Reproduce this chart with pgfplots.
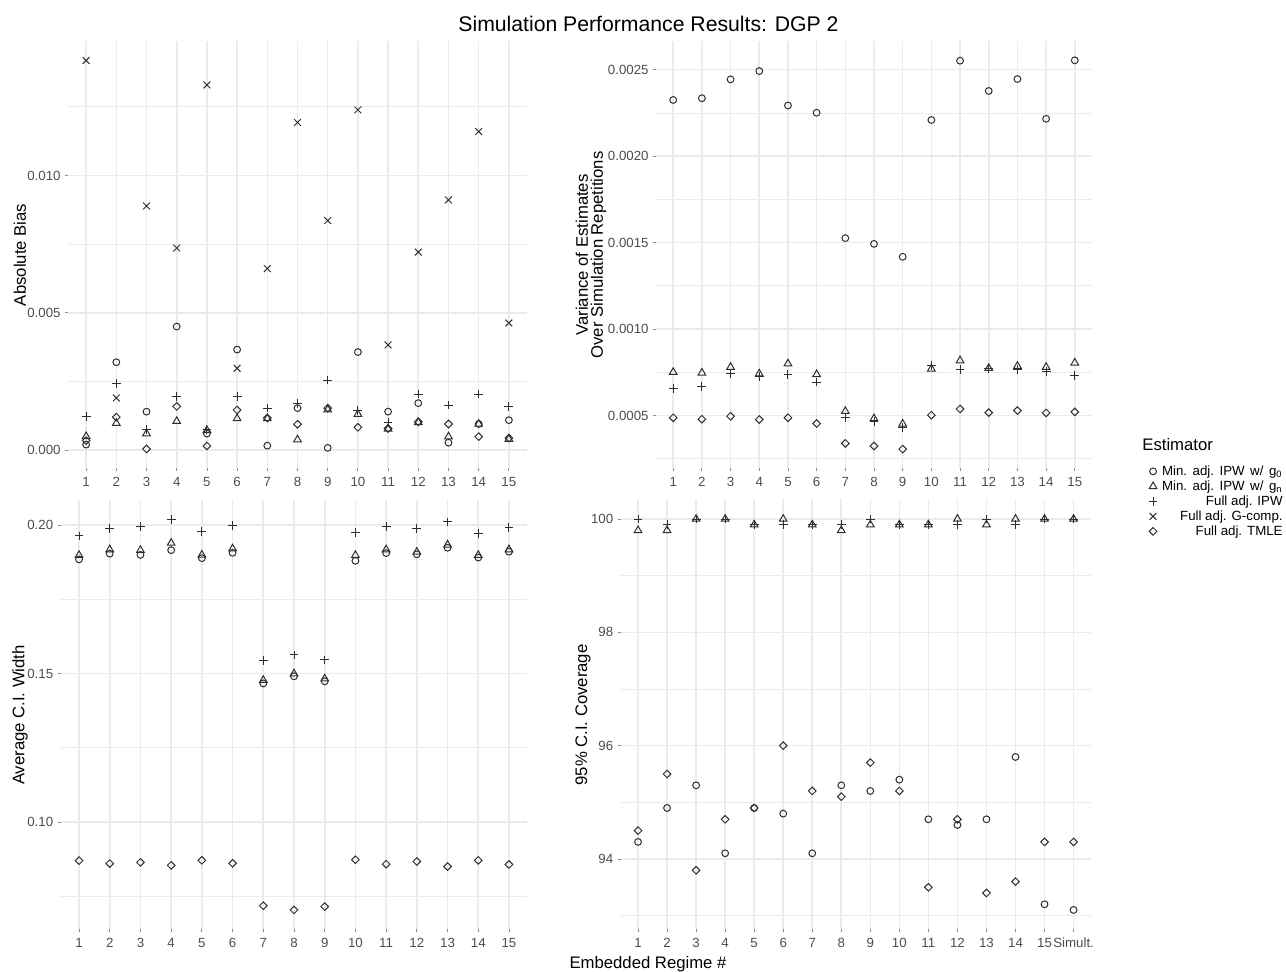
\documentclass[border=0pt]{standalone}
\usepackage{fontspec}
\setmainfont{Liberation Sans}
\usepackage{pgfplots}
\usepackage{pgfplotstable}
\pgfplotsset{compat=1.18}
\definecolor{gridc}{HTML}{EBEBEB}
\definecolor{tickc}{HTML}{4D4D4D}
\definecolor{markc}{HTML}{2E2E2E}

\pgfplotstableread{
x circ tri plus cross diam
1 0.0002 0.0005 0.00122 0.01419 0.00035
2 0.0032 0.00098 0.00243 0.0019 0.0012
3 0.0014 0.0006 0.00074 0.00889 0.00004
4 0.0045 0.00105 0.00196 0.00736 0.00159
5 0.0006 0.00072 0.00075 0.0133 0.00015
6 0.00366 0.00115 0.00196 0.00298 0.00146
7 0.00016 0.00115 0.00153 0.00661 0.00117
8 0.00153 0.00038 0.00171 0.01193 0.00094
9 0.00008 0.00147 0.00255 0.00836 0.00153
10 0.00357 0.00131 0.00143 0.01239 0.00083
11 0.0014 0.00077 0.00101 0.00383 0.00079
12 0.00171 0.00101 0.00204 0.00721 0.00103
13 0.00027 0.00049 0.00164 0.00911 0.00095
14 0.00095 0.00095 0.00204 0.0116 0.00049
15 0.00109 0.0004 0.00159 0.00463 0.00044
}\biasT

\pgfplotstableread{
x circ tri plus diam
1 0.002325 0.000751 0.000655 0.000487
2 0.002335 0.000747 0.000669 0.000479
3 0.002444 0.00078 0.000742 0.000496
4 0.002492 0.000742 0.000726 0.000477
5 0.002293 0.0008 0.000738 0.000487
6 0.002251 0.000738 0.000694 0.000454
7 0.001526 0.000525 0.000487 0.000339
8 0.001493 0.000483 0.000464 0.000324
9 0.001418 0.000452 0.000431 0.000306
10 0.002209 0.00077 0.00079 0.000502
11 0.002552 0.000818 0.000767 0.000538
12 0.002377 0.000774 0.000774 0.000517
13 0.002446 0.000786 0.000767 0.000529
14 0.002216 0.00078 0.000755 0.000515
15 0.002554 0.000805 0.000732 0.000521
}\varT

\pgfplotstableread{
x circ tri plus diam
1 0.1885 0.1899 0.1964 0.0870
2 0.1904 0.1918 0.1989 0.0860
3 0.1900 0.1916 0.1997 0.0864
4 0.1916 0.1940 0.2019 0.0854
5 0.1889 0.1900 0.1978 0.0871
6 0.1907 0.1921 0.2000 0.0861
7 0.1467 0.1478 0.1544 0.0718
8 0.1491 0.1500 0.1563 0.0704
9 0.1474 0.1483 0.1546 0.0715
10 0.1880 0.1899 0.1976 0.0873
11 0.1906 0.1918 0.1997 0.0858
12 0.1902 0.1910 0.1990 0.0867
13 0.1924 0.1934 0.2011 0.0850
14 0.1891 0.1899 0.1971 0.0871
15 0.1911 0.1918 0.1992 0.0857
}\widthT

\pgfplotstableread{
x circ tri plus diam
1 94.3 99.8 100 94.5
2 94.9 99.8 99.9 95.5
3 95.3 100 100 93.8
4 94.1 100 100 94.7
5 94.9 99.9 99.9 94.9
6 94.8 100 99.9 96.0
7 94.1 99.9 99.9 95.2
8 95.3 99.8 99.9 95.1
9 95.2 99.9 100 95.7
10 95.4 99.9 99.9 95.2
11 94.7 99.9 99.9 93.5
12 94.6 100 99.9 94.7
13 94.7 99.9 100 93.4
14 95.8 100 99.9 93.6
15 93.2 100 100 94.3
16 93.1 100 100 94.3
}\covT

\pgfplotsset{
  panel/.style={
    scale only axis, anchor=south west,
    axis line style={draw=none},
    tick pos=left, tick align=outside,
    major tick length=1.5pt, minor tick length=0pt,
    tick style={black!45, line width=0.4pt},
    xmajorgrids, ymajorgrids, yminorgrids,
    major grid style={gridc, line width=0.8pt},
    minor grid style={gridc, line width=0.4pt},
    /pgf/number format/assume math mode=true,
    ticklabel style={font=\fontsize{6.65}{7}\selectfont, text=tickc},
    xticklabel style={anchor=north, inner sep=0pt},
    yticklabel style={anchor=east, inner sep=0pt},
    xticklabel shift=2.6pt, yticklabel shift=2pt,
    scaled y ticks=false,
    xmin=0.4, xmax=15.6,
    xtick={1,...,15},
    clip=false,
    legend image code/.code={\draw[mark repeat=2,mark phase=2,##1] plot coordinates {(0pt,0pt)(2.5pt,0pt)(5pt,0pt)};},
  },
  pcirc/.style={only marks, mark=o, mark size=1.7pt, color=markc, line width=0.5pt},
  ptri/.style={only marks, mark=triangle, mark size=2.2pt, color=markc, line width=0.5pt},
  pplus/.style={only marks, mark=+, mark size=2.2pt, color=markc, line width=0.5pt},
  pcross/.style={only marks, mark=x, mark size=2.4pt, color=markc, line width=0.5pt},
  pdiam/.style={only marks, mark=square, mark size=1.35pt, mark options={rotate=45}, color=markc, line width=0.5pt},
}
\newcommand{\wsp}{\ \hspace{0.9pt}}

\begin{document}
\begin{tikzpicture}
\useasboundingbox (0pt,0pt) rectangle (643pt,486pt);

% Panel 1: Absolute bias
\begin{axis}[panel, at={(34pt,251.75pt)}, width=229.5pt, height=213.75pt,
  ymin=-0.00067, ymax=0.0149, ytick={0,0.005,0.01}, yticklabels={0.000,0.005,0.010},
  minor ytick={0.0025,0.0075,0.0125}]
\addplot[pcirc] table[x=x,y=circ]{\biasT};
\addplot[ptri] table[x=x,y=tri]{\biasT};
\addplot[pplus] table[x=x,y=plus]{\biasT};
\addplot[pcross] table[x=x,y=cross]{\biasT};
\addplot[pdiam] table[x=x,y=diam]{\biasT};
\end{axis}

% Panel 2: Variance
\begin{axis}[panel, at={(328pt,251.75pt)}, width=218pt, height=213.75pt,
  ymin=0.000194, ymax=0.002666,
  ytick={0.0005,0.001,0.0015,0.002,0.0025}, yticklabels={0.0005,0.0010,0.0015,0.0020,0.0025},
  minor ytick={0.00025,0.00075,0.00125,0.00175,0.00225},
  legend style={at={(1.4381,0.0094)}, anchor=north east, draw=none, fill=none,
    inner sep=0pt, row sep=1pt, column sep=2.3pt,
    font=\fontsize{6.65}{7}\selectfont,
    nodes={inner sep=0pt, text height=5.2pt, text depth=1.3pt}},
  legend cell align=right]
\addlegendimage{pcirc}
\addlegendimage{ptri}
\addlegendimage{pplus}
\addlegendimage{pcross}
\addlegendimage{pdiam}
\addplot[pcirc] table[x=x,y=circ]{\varT};
\addplot[ptri] table[x=x,y=tri]{\varT};
\addplot[pplus] table[x=x,y=plus]{\varT};
\addplot[pdiam] table[x=x,y=diam]{\varT};
\legend{Min.\wsp adj.\wsp IPW\wsp w/\wsp g\textsubscript{0},Min.\wsp adj.\wsp IPW\wsp w/\wsp g\textsubscript{n},Full adj. IPW,Full adj. G-comp.,Full adj. TMLE}
\end{axis}

% Panel 3: CI width
\begin{axis}[panel, at={(30.3pt,21.25pt)}, width=233.4pt, height=214.75pt,
  ymin=0.0638, ymax=0.2085, ytick={0.1,0.15,0.2}, yticklabels={0.10,0.15,0.20},
  minor ytick={0.075,0.125,0.175}]
\addplot[pcirc] table[x=x,y=circ]{\widthT};
\addplot[ptri] table[x=x,y=tri]{\widthT};
\addplot[pplus] table[x=x,y=plus]{\widthT};
\addplot[pdiam] table[x=x,y=diam]{\widthT};
\end{axis}

% Panel 4: Coverage
\begin{axis}[panel, at={(310.3pt,21.25pt)}, width=235.2pt, height=215pt,
  xmin=0.4, xmax=16.6, xtick={1,...,16},
  xticklabels={1,2,3,4,5,6,7,8,9,10,11,12,13,14,15,Simult.},
  ymin=92.755, ymax=100.345, ytick={94,96,98,100}, yticklabels={94,96,98,100},
  minor ytick={93,95,97,99}]
\addplot[pcirc] table[x=x,y=circ]{\covT};
\addplot[ptri] table[x=x,y=tri]{\covT};
\addplot[pplus] table[x=x,y=plus]{\covT};
\addplot[pdiam] table[x=x,y=diam]{\covT};
\end{axis}

% Titles and labels
\node[anchor=base, font=\fontsize{10.6}{12}\selectfont] at (324.25pt,470pt) {Simulation Performance Results: DGP 2};
\node[rotate=90, font=\fontsize{8.35}{7.5}\selectfont] at (10pt,358.5pt) {Absolute Bias};
\node[rotate=90, align=center, font=\fontsize{8.35}{7.5}\selectfont] at (295.5pt,358.5pt) {Variance of Estimates\\Over Simulation Repetitions};
\node[rotate=90, font=\fontsize{8.35}{7.5}\selectfont] at (10pt,128.5pt) {Average C.I. Width};
\node[rotate=90, font=\fontsize{8.35}{7.5}\selectfont] at (291.5pt,128.5pt) {95\% C.I. Coverage};
\node[anchor=base, font=\fontsize{8.35}{10}\selectfont] at (324pt,1.6pt) {Embedded Regime \#};
\node[anchor=west, inner sep=0pt, font=\fontsize{8.35}{10}\selectfont] at (571pt,263.5pt) {Estimator};
\end{tikzpicture}
\end{document}
